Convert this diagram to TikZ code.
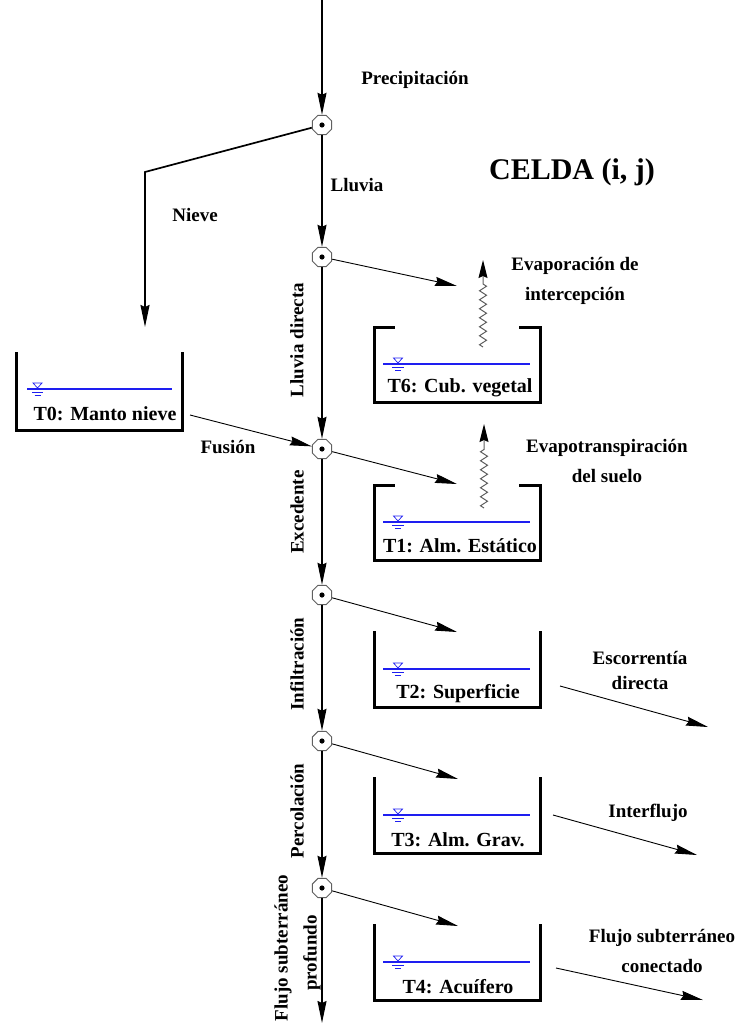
\documentclass[tikz,border=0pt]{standalone}
\usepackage{fontspec}
\setmainfont{Liberation Serif}
\usetikzlibrary{arrows.meta,decorations.pathmorphing,shapes.geometric}
\definecolor{waterblue}{HTML}{1E1EF0}
\definecolor{vaporgray}{HTML}{606060}

\begin{document}
\begin{tikzpicture}[x=1pt, y=-1pt, every node/.style={font=\bfseries\fontsize{19}{30}\selectfont, inner sep=1pt},
    flow/.style={-{Stealth[length=22pt,width=9pt,inset=2pt]}, line width=0.9pt},
    trunk/.style={flow, line width=1.4pt},
    junction/.style={regular polygon, regular polygon sides=8, draw=vaporgray, fill=white,
        minimum size=21pt, inner sep=0pt, line width=1pt},
    wall/.style={line width=3pt, line cap=rect},
    water/.style={waterblue, line width=1.2pt},
    vapor/.style={vaporgray, line width=1pt, decorate,
        decoration={zigzag, segment length=9pt, amplitude=3.5pt, post length=24pt},
        -{Stealth[black,length=18pt,width=9pt,inset=2pt]}},
    tanklabel/.style={font=\bfseries\fontsize{20}{24}\selectfont}]
    \useasboundingbox (0,0) rectangle (742,1025);

    % Junctions on the main column
    \coordinate (top) at (322,0);
    \foreach \i/\y in {0/125,1/257,2/449,3/595,4/741,5/888} {
        \node[junction] (n\i) at (322,\y) {};
        \fill (n\i) circle (2.6pt);
    }
    \coordinate (bottom) at (322,1023);

    % Main vertical flow
    \draw[trunk] (top) -- (n0);
    \draw[trunk] (n0) -- (n1);
    \draw[trunk] (n1) -- (n2);
    \draw[trunk] (n2) -- (n3);
    \draw[trunk] (n3) -- (n4);
    \draw[trunk] (n4) -- (n5);
    \draw[trunk] (n5) -- (bottom);

    % Snow branch
    \coordinate (bend) at (145,172);
    \coordinate (snowend) at (145,327);
    \draw[trunk, line width=1.7pt] (n0) -- (bend) -- (snowend);

    % Title and flux labels
    \node (celda) at (572,172) {\fontsize{30}{36}\selectfont CELDA (i, j)};
    \node (prec) at (415,80) {Precipitación};
    \node (lluvia) at (357,185) {Lluvia};
    \node (nieve) at (195,215) {Nieve};
    \node[rotate=90] (ldir) at (297,340) {Lluvia directa};
    \node[rotate=90] (exc) at (297,512) {Excedente};
    \node[rotate=90] (inf) at (297,664) {Infiltración};
    \node[rotate=90] (perc) at (297,811) {Percolación};
    \node[rotate=90] (fsp1) at (283,948) {Flujo subterráneo};
    \node[rotate=90] (fsp2) at (312,953) {profundo};
    \node (fus) at (228,447) {Fusión};

    % Snow tank T0 (open)
    \draw[wall] (16,353) -- (16,430) -- (182,430) -- (182,353);
    \draw[water] (27,389) -- (172,389);
    \draw[waterblue, line width=0.7pt] (33,383) -- (42,383) -- (37.5,388) -- cycle;
    \draw[waterblue, line width=0.7pt] (32,392) -- (43,392) (34.5,395) -- (40.5,395);
    \node[tanklabel] (t0) at (105,414) {T0: Manto nieve};
    \coordinate (t0out) at (190,415);
    \draw[flow] (t0out) -- (n2);

    % Covered tanks (T6, T1)
    \foreach \k/\ty/\lbl in {6/327/T6: Cub. vegetal, 1/485/T1: Alm. Estático} {
        \draw[wall] (393,\ty) -- (374,\ty) -- (374,\ty+75) -- (540,\ty+75) -- (540,\ty) -- (520,\ty);
        \draw[water] (383,\ty+37) -- (530,\ty+37);
        \draw[waterblue, line width=0.7pt] (393.5,\ty+31) -- (402.5,\ty+31) -- (398,\ty+36) -- cycle;
        \draw[waterblue, line width=0.7pt] (392,\ty+40) -- (404,\ty+40) (395,\ty+43) -- (401,\ty+43);
        \node[tanklabel] (t\k) at (460,\ty+61) {\lbl};
    }

    % Open tanks (T2, T3, T4)
    \foreach \k/\ty/\lbl in {2/632/T2: Superficie, 3/778/T3: Alm. Grav., 4/925/T4: Acuífero} {
        \draw[wall] (374,\ty) -- (374,\ty+75) -- (540,\ty+75) -- (540,\ty);
        \draw[water] (383,\ty+37) -- (530,\ty+37);
        \draw[waterblue, line width=0.7pt] (393.5,\ty+31) -- (402.5,\ty+31) -- (398,\ty+36) -- cycle;
        \draw[waterblue, line width=0.7pt] (392,\ty+40) -- (404,\ty+40) (395,\ty+43) -- (401,\ty+43);
        \node[tanklabel] (t\k) at (458,\ty+62) {\lbl};
    }

    % Inflows to the tanks
    \coordinate (in6) at (457,286);
    \coordinate (in1) at (457,484);
    \coordinate (in2) at (457,632);
    \coordinate (in3) at (458,779);
    \coordinate (in4) at (458,926);
    \draw[flow] (n1) -- (in6);
    \draw[flow] (n2) -- (in1);
    \draw[flow] (n3) -- (in2);
    \draw[flow] (n4) -- (in3);
    \draw[flow] (n5) -- (in4);

    % Evaporation
    \coordinate (ev6a) at (483,347);
    \coordinate (ev6b) at (483,260);
    \coordinate (ev1a) at (484,508);
    \coordinate (ev1b) at (484,424);
    \draw[vapor] (ev6a) -- (ev6b);
    \draw[vapor] (ev1a) -- (ev1b);
    \node[align=center] (evap) at (575,281) {Evaporación de\\intercepción};
    \node[align=center] (etp) at (607,461) {Evapotranspiración\\del suelo};

    % Lateral outflows
    \coordinate (q2a) at (560,686);
    \coordinate (q2b) at (708,727);
    \coordinate (q3a) at (553,815);
    \coordinate (q3b) at (697,855);
    \coordinate (q4a) at (556,968);
    \coordinate (q4b) at (703,1000);
    \draw[flow] (q2a) -- (q2b);
    \draw[flow] (q3a) -- (q3b);
    \draw[flow] (q4a) -- (q4b);
    \node[align=center, font=\bfseries\fontsize{19}{25}\selectfont] (esc) at (640,670) {Escorrentía\\directa};
    \node (intf) at (648,813) {Interflujo};
    \node[align=center] (fsc) at (662,951) {Flujo subterráneo\\conectado};
\end{tikzpicture}
\end{document}
